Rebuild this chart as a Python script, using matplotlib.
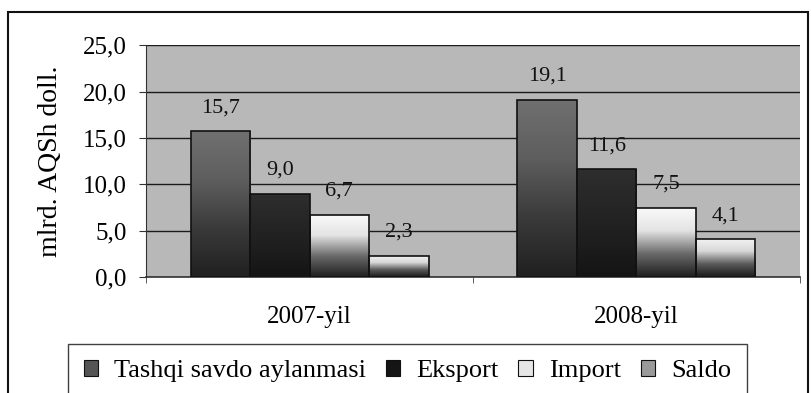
import numpy as np
import matplotlib.pyplot as plt
from matplotlib.patches import Rectangle
from matplotlib.colors import LinearSegmentedColormap

years = ['2007-yil', '2008-yil']
series = ['Tashqi savdo aylanmasi', 'Eksport', 'Import', 'Saldo']
tashqi = [15.7, 19.1]
eksport = [9.0, 11.6]
import_ = [6.7, 7.5]
saldo = [2.3, 4.1]
yticks = [0, 5, 10, 15, 20, 25]

values = [tashqi, eksport, import_, saldo]

# shading ramps for each series, from bar bottom to bar top
ramps = [
    ['#202020', '#3a3a3a', '#5e5e5e', '#707070'],
    ['#141414', '#1e1e1e', '#262626', '#2e2e2e'],
    ['#1e1e1e', '#6a6a6a', '#e4e4e4', '#fafafa'],
    ['#1a1a1a', '#5a5a5a', '#d8d8d8', '#f4f4f4'],
]
legend_colors = ['#555555', '#151515', '#e6e6e6', '#9a9a9a']

plt.rcParams['font.family'] = ['Liberation Serif', 'DejaVu Serif']

fig = plt.figure(figsize=(8.12, 3.93), dpi=100)
ax = fig.add_axes([0.180, 0.295, 0.805, 0.59])
ax.set_facecolor('#b8b8b8')

x = np.arange(len(years))
w = 0.182
grad = np.linspace(0, 1, 256).reshape(-1, 1)

for i, vals in enumerate(values):
    offs = x + (i - 1.5) * w
    bars = ax.bar(offs, vals, w, facecolor='none', edgecolor='#111111',
                  linewidth=1.2, zorder=3)
    cmap = LinearSegmentedColormap.from_list('r%d' % i, ramps[i])
    for b, v in zip(bars, vals):
        x0 = b.get_x()
        im = ax.imshow(grad, cmap=cmap, origin='lower', aspect='auto',
                       extent=(x0, x0 + w, 0, v), zorder=2)
        im.set_clip_path(b)
        ax.annotate(('%.1f' % v).replace('.', ','), (x0 + w / 2, v),
                    xytext=(0, 10), textcoords='offset points',
                    ha='center', va='bottom', fontsize=16, color='#111111',
                    zorder=4)

ax.set_xlim(-0.5, 1.5)
ax.set_ylim(0, 25)
ax.set_yticks(yticks)
ax.set_yticklabels([('%.1f' % t).replace('.', ',') for t in yticks], fontsize=18)
ax.set_xticks(x)
ax.set_xticklabels(years, fontsize=18)
ax.set_xticks([-0.5, 0.5, 1.5], minor=True)
ax.tick_params(axis='x', which='major', length=0, pad=21)
ax.tick_params(axis='x', which='minor', length=4, color='#444444')
ax.tick_params(axis='y', length=5, pad=9, color='#333333')

ax.yaxis.grid(True, color='#1a1a1a', linewidth=1.0)
ax.set_axisbelow(True)
for s in ['top', 'right']:
    ax.spines[s].set_visible(False)
ax.spines['left'].set_color('#333333')
ax.spines['bottom'].set_color('#333333')
ax.spines['bottom'].set_linewidth(1.2)

ax.set_ylabel('mlrd. AQSh doll.', fontsize=20, labelpad=14)

handles = [Rectangle((0, 0), 1, 1, facecolor=c, edgecolor='#111111', linewidth=0.8)
           for c in legend_colors]
leg = fig.legend(handles, series, loc='upper left', bbox_to_anchor=(68 / 812, 1 - 344 / 393),
                 ncol=4, prop={'family': 'Liberation Serif', 'size': 19},
                 frameon=True, fancybox=False, borderaxespad=0,
                 handlelength=0.55, handleheight=0.55, handletextpad=0.6,
                 columnspacing=0.75, borderpad=0.6)
leg.get_frame().set_edgecolor('#111111')
leg.get_frame().set_linewidth(1.0)

# outer frame
fig.add_artist(Rectangle((8 / 812, -0.1), 800 / 812, 1.1 - 12 / 393,
                         transform=fig.transFigure, fill=False,
                         edgecolor='#111111', linewidth=1.5))

fig.savefig('out.png', dpi=100)
